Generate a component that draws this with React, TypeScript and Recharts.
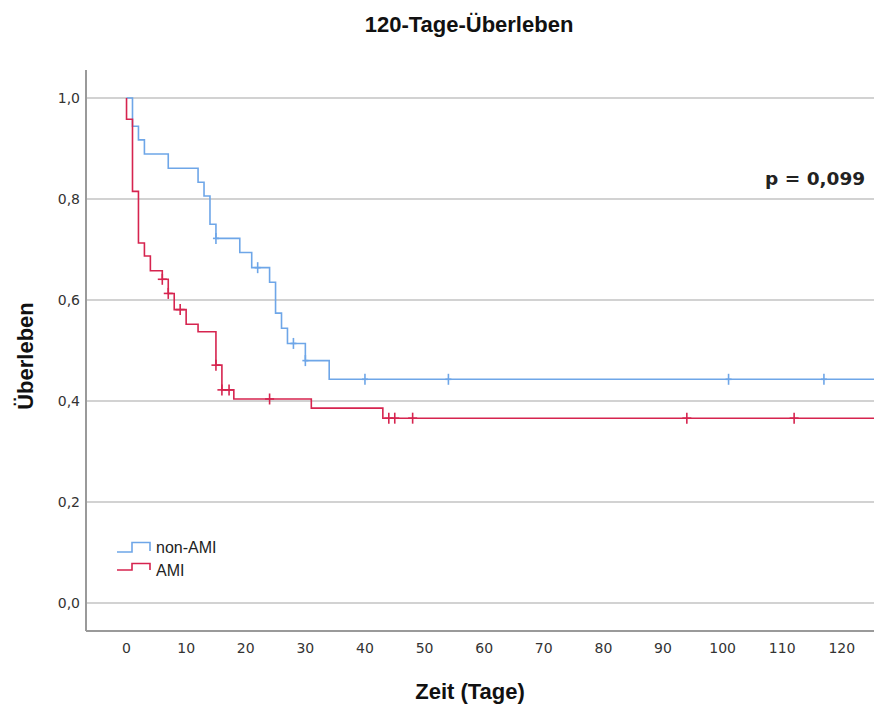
import React from "react";
import {
  ComposedChart,
  Line,
  Scatter,
  XAxis,
  YAxis,
  CartesianGrid,
} from "recharts";

// Kaplan-Meier steps (time in days, survival after the step)
const nonAmiTimes = [0, 1, 2, 3, 7, 12, 13, 14, 15, 19, 21, 24, 25, 26, 27, 30, 34];
const nonAmiSurv = [1, 0.944, 0.917, 0.889, 0.861, 0.833, 0.806, 0.75, 0.722, 0.694, 0.664, 0.635, 0.574, 0.544, 0.514, 0.48, 0.443];
const nonAmiCensored = [15, 22, 28, 30, 40, 54, 101, 117];

const amiTimes = [0, 0, 1, 2, 3, 4, 6, 7, 8, 10, 12, 15, 16, 18, 31, 43];
const amiSurv = [1, 0.958, 0.815, 0.713, 0.687, 0.658, 0.641, 0.613, 0.581, 0.552, 0.537, 0.471, 0.422, 0.404, 0.386, 0.366];
const amiCensored = [6, 7, 9, 15, 16, 17.2, 24, 44, 45, 48, 94, 112];

const xTicks = [0, 10, 20, 30, 40, 50, 60, 70, 80, 90, 100, 110, 120];
const yTicks = [0, 0.2, 0.4, 0.6, 0.8, 1];

const X_MIN = -6.8;
const X_MAX = 125.4;

const BLUE = "#6ea6e8";
const RED = "#d6244f";

const stepData = (times: number[], surv: number[]) => {
  const pts = times.map((t, i) => ({ t, s: surv[i] }));
  pts.push({ t: X_MAX, s: surv[surv.length - 1] });
  return pts;
};

// survival value of the curve at a given time
const survAt = (times: number[], surv: number[], t: number) => {
  let s = surv[0];
  times.forEach((tt, i) => {
    if (tt <= t) s = surv[i];
  });
  return s;
};

const censorData = (times: number[], surv: number[], cens: number[]) =>
  cens.map((t) => ({ t, s: survAt(times, surv, t) }));

const CensorMark = (color: string, arm: number) => (props: any) => {
  const { cx, cy } = props;
  return (
    <g stroke={color} strokeWidth={1.6}>
      <line x1={cx} x2={cx} y1={cy - 5.5} y2={cy + 5.5} />
      <line x1={cx - arm} x2={cx + arm} y1={cy} y2={cy} />
    </g>
  );
};

const tickStyle = { fontFamily: "DejaVu Sans", fontSize: 14, fill: "#333" };

const App = () => {
  return (
    <div style={{ position: "absolute", left: 0, top: 0, width: 874, height: 706, background: "#fff" }}>
      <ComposedChart width={874} height={706} margin={{ top: 70, right: 0, bottom: 35, left: 0 }}>
        <CartesianGrid
          vertical={false}
          horizontalValues={yTicks}
          syncWithTicks={false}
          stroke="#d2d2d2"
          strokeWidth={2}
        />
        <XAxis
          type="number"
          dataKey="t"
          domain={[X_MIN, X_MAX]}
          allowDataOverflow
          ticks={xTicks}
          tickLine={false}
          tickSize={0}
          tickMargin={12}
          height={40}
          axisLine={{ stroke: "#9a9a9a", strokeWidth: 2 }}
          tick={tickStyle}
        />
        <YAxis
          type="number"
          dataKey="s"
          domain={[-0.0554, 1.0554]}
          allowDataOverflow
          ticks={yTicks}
          tickFormatter={(v: number) => v.toFixed(1).replace(".", ",")}
          tickLine={false}
          tickSize={0}
          tickMargin={6}
          width={86}
          axisLine={{ stroke: "#9a9a9a", strokeWidth: 2 }}
          tick={tickStyle}
        />
        <Line
          data={stepData(nonAmiTimes, nonAmiSurv)}
          dataKey="s"
          type="stepAfter"
          stroke={BLUE}
          strokeWidth={1.6}
          dot={false}
          isAnimationActive={false}
        />
        <Line
          data={stepData(amiTimes, amiSurv)}
          dataKey="s"
          type="stepAfter"
          stroke={RED}
          strokeWidth={1.6}
          dot={false}
          isAnimationActive={false}
        />
        <Scatter
          data={censorData(nonAmiTimes, nonAmiSurv, nonAmiCensored)}
          dataKey="s"
          shape={CensorMark(BLUE, 3)}
          isAnimationActive={false}
        />
        <Scatter
          data={censorData(amiTimes, amiSurv, amiCensored)}
          dataKey="s"
          shape={CensorMark(RED, 4.5)}
          isAnimationActive={false}
        />
      </ComposedChart>
      <svg
        width={874}
        height={706}
        style={{ position: "absolute", left: 0, top: 0, pointerEvents: "none" }}
      >
        <text x={469} y={32} textAnchor="middle" fontFamily="Liberation Sans" fontWeight="bold" fontSize={22} fill="#111">
          120-Tage-Überleben
        </text>
        <text x={765} y={185} fontFamily="DejaVu Sans" fontWeight="bold" fontSize={18.5} fill="#222">
          p = 0,099
        </text>
        <text x={470} y={699} textAnchor="middle" fontFamily="Liberation Sans" fontWeight="bold" fontSize={22} fill="#111">
          Zeit (Tage)
        </text>
        <text
          x={33}
          y={356}
          textAnchor="middle"
          transform="rotate(-90, 33, 356)"
          fontFamily="Liberation Sans"
          fontWeight="bold"
          fontSize={22}
          fill="#111"
        >
          Überleben
        </text>
        <polyline points="117,552 132,552 132,542.5 150,542.5 150,551" fill="none" stroke={BLUE} strokeWidth={1.6} />
        <text x={156} y={553} fontFamily="Liberation Sans" fontSize={16} fill="#222">
          non-AMI
        </text>
        <polyline points="117,570 132,570 132,563.5 150,563.5 150,570" fill="none" stroke={RED} strokeWidth={1.6} />
        <text x={156} y={576} fontFamily="Liberation Sans" fontSize={16} fill="#222">
          AMI
        </text>
      </svg>
    </div>
  );
};

export default App;
